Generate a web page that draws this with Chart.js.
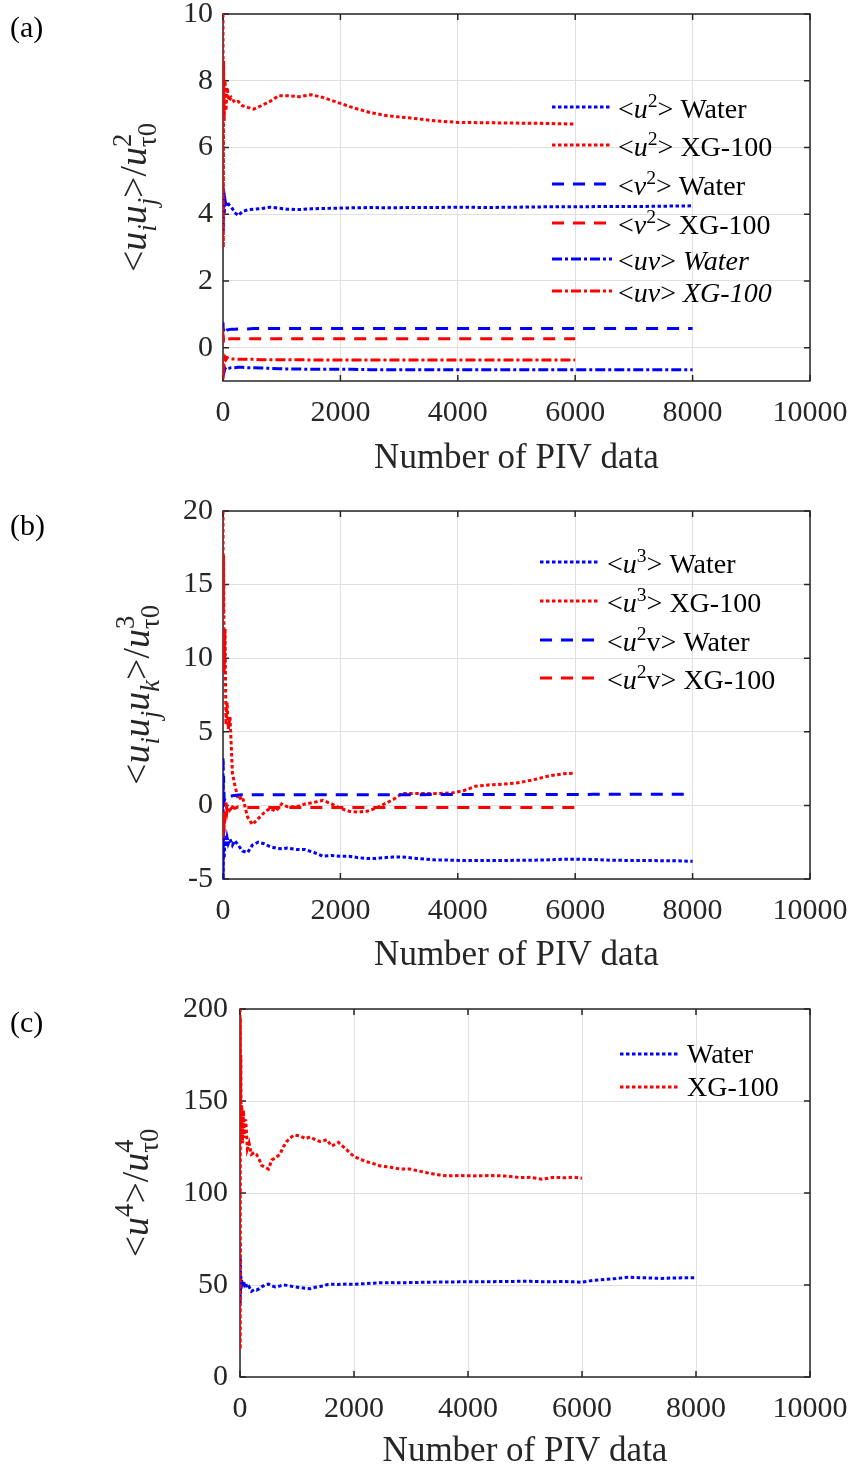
<!DOCTYPE html>
<html>
<head>
<meta charset="utf-8">
<script src="https://cdn.jsdelivr.net/npm/chart.js@4"></script>
<style>
  html, body { margin: 0; padding: 0; background: #fff; }
  #wrap { position: relative; width: 856px; height: 1469px; }
  canvas { position: absolute; left: 0; }
</style>
</head>
<body>
<div id="wrap">
  <canvas id="panelA" width="856" height="492" style="top:0px"></canvas>
  <canvas id="panelB" width="856" height="494" style="top:492px"></canvas>
  <canvas id="panelC" width="856" height="483" style="top:986px"></canvas>
</div>
<script>
const FONT = '"Liberation Serif", "Times New Roman", Times, serif';
const INK = '#262626';
const BLUE = '#0000ff';
const RED = '#ff0000';
const DOTTED = [3.5, 2.5];
const DASHED = [12, 9];
const DASHDOT = [10, 3, 3, 3];
const LINE_W = 3;

// shared x ticks (number of PIV samples)
const xTicks = [0, 2000, 4000, 6000, 8000, 10000];

// ---- (a) second-order moments ----
const yTicksA = [0, 2, 4, 6, 8, 10];
const nA = [0, 5, 10, 20, 35, 50, 70, 100, 140, 200, 260, 330, 420, 520, 650, 800, 950, 1100,
  1300, 1500, 1700, 1900, 2200, 2500, 2800, 3200, 3600, 4000, 4500, 5000, 5500, 6000,
  6500, 7000, 7500, 8000];
const u2WaterA = [4.8, 3.5, 4.6, 4.0, 4.42, 4.25, 4.38, 4.28, 4.22, 4.05, 3.96, 4.08, 4.13, 4.15,
  4.17, 4.21, 4.18, 4.15, 4.14, 4.16, 4.17, 4.18, 4.19, 4.2, 4.19, 4.2, 4.2, 4.21, 4.2, 4.21,
  4.22, 4.22, 4.23, 4.23, 4.24, 4.25];
const u2XgA = [10, 3.0, 8.6, 6.8, 8.0, 7.1, 7.8, 7.4, 7.5, 7.35, 7.38, 7.25, 7.2, 7.15, 7.25,
  7.38, 7.55, 7.55, 7.52, 7.58, 7.5, 7.38, 7.2, 7.05, 6.95, 6.88, 6.8, 6.75, 6.74, 6.73, 6.72, 6.7];
const v2WaterA = [0.75, 0.48, 0.62, 0.5, 0.53, 0.5, 0.53, 0.54, 0.55, 0.55, 0.56, 0.56, 0.56,
  0.57, 0.57, 0.57, 0.57, 0.57, 0.57, 0.57, 0.57, 0.57, 0.57, 0.57, 0.57, 0.57, 0.57, 0.57,
  0.57, 0.57, 0.57, 0.57, 0.57, 0.57, 0.57, 0.57];
const v2XgA = [0.35, 0.15, 0.3, 0.2, 0.25, 0.22, 0.25, 0.26, 0.27, 0.27, 0.27, 0.27, 0.27, 0.27,
  0.27, 0.27, 0.27, 0.27, 0.27, 0.27, 0.27, 0.27, 0.27, 0.27, 0.27, 0.27, 0.27, 0.27, 0.27,
  0.27, 0.27, 0.27];
const uvWaterA = [-0.5, -0.85, -0.6, -0.72, -0.62, -0.66, -0.63, -0.62, -0.6, -0.6, -0.59, -0.59,
  -0.6, -0.6, -0.61, -0.62, -0.63, -0.64, -0.64, -0.65, -0.65, -0.65, -0.65, -0.66, -0.66,
  -0.66, -0.66, -0.66, -0.66, -0.66, -0.66, -0.66, -0.66, -0.66, -0.66, -0.66];
const uvXgA = [-0.95, -0.45, -0.75, -0.4, -0.3, -0.36, -0.3, -0.33, -0.34, -0.34, -0.35, -0.35,
  -0.35, -0.35, -0.36, -0.36, -0.36, -0.36, -0.36, -0.37, -0.37, -0.37, -0.37, -0.37, -0.37,
  -0.37, -0.37, -0.37, -0.37, -0.37, -0.37, -0.37];

// ---- (b) third-order moments ----
const yTicksB = [-5, 0, 5, 10, 15, 20];
const nB = [0, 5, 10, 20, 35, 50, 70, 90, 120, 160, 200, 260, 330, 420, 500, 600, 700, 800, 900,
  1000, 1100, 1250, 1400, 1550, 1700, 1850, 2000, 2150, 2300, 2450, 2600, 2750, 2900, 3050,
  3300, 3600, 3900, 4100, 4300, 4550, 4800, 5050, 5300, 5550, 5800, 6000,
  6300, 6600, 6900, 7200, 7500, 7800, 8000];
const u3WaterB = [3.0, -5.0, -1.0, -3.6, -2.0, -2.8, -2.2, -2.6, -2.3, -2.7, -2.4, -2.7, -3.1,
  -3.2, -2.7, -2.5, -2.6, -2.8, -2.9, -2.95, -2.9, -3.0, -3.0, -3.2, -3.45, -3.4, -3.45, -3.45,
  -3.55, -3.6, -3.6, -3.55, -3.5, -3.5, -3.6, -3.7, -3.72, -3.75, -3.75, -3.75, -3.74, -3.73,
  -3.72, -3.7, -3.66, -3.65, -3.68, -3.72, -3.74, -3.74, -3.76, -3.77, -3.8];
const u3XgB = [20, 13, 17, 9, 12, 5.5, 7, 5.2, 6, 2.2, 1.4, 0.4, 0.6, -0.8, -1.3, -0.9, -0.5,
  -0.2, -0.4, 0.1, -0.1, -0.1, 0.1, 0.2, 0.35, 0.1, -0.2, -0.4, -0.45, -0.4, -0.2, 0.1, 0.4,
  0.8, 0.8, 0.8, 0.85, 1.0, 1.3, 1.4, 1.45, 1.55, 1.75, 2.0, 2.15, 2.2];
const u2vWaterB = [3.2, 1.0, 2.0, 0.3, 0.5, 0.4, 0.55, 0.5, 0.6, 0.65, 0.68, 0.7, 0.72, 0.72,
  0.73, 0.73, 0.73, 0.73, 0.73, 0.73, 0.73, 0.73, 0.73, 0.73, 0.73, 0.73, 0.73, 0.73, 0.73,
  0.73, 0.73, 0.73, 0.73, 0.73, 0.73, 0.74, 0.74, 0.74, 0.74, 0.74, 0.74, 0.74, 0.74, 0.74,
  0.74, 0.74, 0.75, 0.75, 0.75, 0.75, 0.75, 0.75, 0.75];
const u2vXgB = [-1.5, -2.2, -0.5, -1.8, -0.3, 0.2, -0.4, 0.1, -0.3, -0.1, -0.2, -0.1, -0.15,
  -0.15, -0.15, -0.15, -0.15, -0.15, -0.15, -0.15, -0.15, -0.15, -0.15, -0.15, -0.15, -0.15,
  -0.15, -0.15, -0.15, -0.15, -0.15, -0.15, -0.15, -0.15, -0.15, -0.15, -0.15, -0.15, -0.15,
  -0.15, -0.15, -0.15, -0.15, -0.15, -0.15, -0.15];

// ---- (c) fourth-order moment ----
const yTicksC = [0, 50, 100, 150, 200];
const nC = [0, 3, 6, 10, 15, 20, 30, 45, 60, 80, 100, 130, 160, 200, 250, 290, 340, 380, 440,
  500, 560, 620, 700, 760, 820, 880, 950, 1050, 1150, 1230, 1320, 1400, 1480, 1520, 1610,
  1725, 1800, 1870, 1990, 2100, 2220, 2340, 2460, 2640, 2810, 2980, 3130, 3280, 3450, 3630,
  3850, 4090, 4400, 4680, 4910, 5100, 5300, 5500, 5700, 5850, 6000,
  6200, 6400, 6600, 6800, 7000, 7200, 7400, 7600, 7800, 8000];
const u4XgC = [200, 15, 195, 150, 175, 135, 148, 127, 145, 130, 140, 124, 127, 121, 122, 121,
  118, 115, 114, 113, 118, 119, 121, 125, 128, 130, 131.5, 131, 129.5, 130.5, 129, 128, 128.5,
  129, 125.5, 127.5, 125.5, 123.6, 120, 118.5, 117, 116, 114.7, 114, 113, 113, 112, 111, 110,
  109.3, 109.5, 109.3, 109.5, 109.2, 108.4, 108.5, 107.5, 108.5, 108.3, 108.6, 108];
const u4WaterC = [73, 40, 65, 45, 55, 48, 53, 49, 52, 50, 51, 48, 49, 46.5, 47.5, 47.2, 48, 49,
  50, 50.5, 49.5, 49, 49.5, 50, 49.8, 49.5, 49, 48.6, 48.2, 48, 48.8, 49.2, 49.6, 50.2, 50.4,
  50.3, 50.4, 50.5, 50.4, 50.6, 50.8, 51, 51.2, 51.3, 51.2, 51.3, 51.4, 51.5, 51.6, 51.6, 51.7,
  51.7, 51.8, 51.9, 52, 52, 51.8, 51.8, 51.9, 51.7, 51.5, 52.5, 53, 53.5, 54.2, 54, 53.8, 53.6,
  53.8, 53.9, 54];

function pts(xs, ys) {
  return ys.map((y, i) => ({ x: xs[i], y: y }));
}

function segFont(size, italic) {
  return (italic ? 'italic ' : '') + size + 'px ' + FONT;
}

// draws text made of [text, style] pieces; style may hold 'i', 'sup', 'sub' or 'supsub'
function drawRich(ctx, segs, x, y, size, align) {
  const small = size * 0.7;
  const items = [];
  let w = 0;
  for (const [t, st = ''] of segs) {
    const it = st.includes('i');
    if (st.includes('supsub')) {
      const [a, b] = t.split('|');
      ctx.font = segFont(small, false);
      const wa = ctx.measureText(a).width;
      const wb = ctx.measureText(b).width;
      items.push({ t: a, font: ctx.font, x: w, dy: -0.4 * size });
      items.push({ t: b, font: ctx.font, x: w, dy: 0.25 * size });
      w += Math.max(wa, wb);
    } else {
      const sup = st.includes('sup');
      const sub = st.includes('sub');
      const f = segFont(sup || sub ? small : size, it);
      ctx.font = f;
      items.push({ t: t, font: f, x: w, dy: sup ? -0.4 * size : sub ? 0.25 * size : 0 });
      w += ctx.measureText(t).width;
    }
  }
  const x0 = align === 'center' ? x - w / 2 : x;
  ctx.textAlign = 'left';
  ctx.textBaseline = 'alphabetic';
  for (const p of items) {
    ctx.font = p.font;
    ctx.fillText(p.t, x0 + p.x, y + p.dy);
  }
}

// per-panel annotations: tag, y title, legend layout
const panelText = {
  panelA: {
    tag: '(a)', tagY: 37, yTitleX: 146, xTitleDy: 87,
    yTitle: [['<'], ['u', 'i'], ['i', 'sub i'], ['u', 'i'], ['j', 'sub i'], ['>/'], ['u', 'i'], ['2|τ0', 'supsub']],
    legend: {
      x1: 552, x2: 612, tx: 618, dy: 11,
      rows: [107, 145, 184, 223, 259, 291],
      labels: [
        [['<'], ['u', 'i'], ['2', 'sup'], ['> Water']],
        [['<'], ['u', 'i'], ['2', 'sup'], ['> XG-100']],
        [['<'], ['v', 'i'], ['2', 'sup'], ['> Water']],
        [['<'], ['v', 'i'], ['2', 'sup'], ['> XG-100']],
        [['<'], ['uv', 'i'], ['> '], ['Water', 'i']],
        [['<'], ['uv', 'i'], ['> '], ['XG-100', 'i']]
      ]
    }
  },
  panelB: {
    tag: '(b)', tagY: 43, yTitleX: 149, xTitleDy: 86,
    yTitle: [['<'], ['u', 'i'], ['i', 'sub i'], ['u', 'i'], ['j', 'sub i'], ['u', 'i'], ['k', 'sub i'], ['>/'], ['u', 'i'], ['3|τ0', 'supsub']],
    legend: {
      x1: 540, x2: 600, tx: 607, dy: 11,
      rows: [70, 109, 148, 186],
      labels: [
        [['<'], ['u', 'i'], ['3', 'sup'], ['> Water']],
        [['<'], ['u', 'i'], ['3', 'sup'], ['> XG-100']],
        [['<'], ['u', 'i'], ['2', 'sup'], ['v> Water']],
        [['<'], ['u', 'i'], ['2', 'sup'], ['v> XG-100']]
      ]
    }
  },
  panelC: {
    tag: '(c)', tagY: 46, yTitleX: 148, xTitleDy: 84,
    yTitle: [['<'], ['u', 'i'], ['4', 'sup'], ['>/'], ['u', 'i'], ['4|τ0', 'supsub']],
    legend: {
      x1: 620, x2: 680, tx: 687, dy: 9,
      rows: [68, 101],
      labels: [[['Water']], [['XG-100']]]
    }
  }
};

// MATLAB-like box with inward ticks, titles and legend
const frame = {
  id: 'frame',
  beforeDatasetsDraw(chart) {
    const { ctx, chartArea: a, scales: { x, y } } = chart;
    ctx.save();
    ctx.strokeStyle = INK;
    ctx.lineWidth = 1.5;
    ctx.strokeRect(a.left, a.top, a.right - a.left, a.bottom - a.top);
    const tl = 6;
    ctx.beginPath();
    for (const t of x.ticks) {
      const px = x.getPixelForValue(t.value);
      ctx.moveTo(px, a.bottom); ctx.lineTo(px, a.bottom - tl);
      ctx.moveTo(px, a.top); ctx.lineTo(px, a.top + tl);
    }
    for (const t of y.ticks) {
      const py = y.getPixelForValue(t.value);
      ctx.moveTo(a.left, py); ctx.lineTo(a.left + tl, py);
      ctx.moveTo(a.right, py); ctx.lineTo(a.right - tl, py);
    }
    ctx.stroke();
    ctx.restore();
  },
  afterDraw(chart) {
    const o = panelText[chart.canvas.id];
    const { ctx, chartArea: a } = chart;
    ctx.save();
    ctx.fillStyle = '#000';
    drawRich(ctx, [[o.tag]], 10, o.tagY, 30, 'left');
    ctx.fillStyle = INK;
    drawRich(ctx, [['Number of PIV data']], (a.left + a.right) / 2, a.bottom + o.xTitleDy, 35, 'center');

    ctx.save();
    ctx.translate(o.yTitleX, (a.top + a.bottom) / 2);
    ctx.rotate(-Math.PI / 2);
    drawRich(ctx, o.yTitle, 0, 0, 38, 'center');
    ctx.restore();

    const lg = o.legend;
    chart.data.datasets.forEach((ds, i) => {
      const ly = lg.rows[i];
      ctx.strokeStyle = ds.borderColor;
      ctx.lineWidth = ds.borderWidth;
      ctx.setLineDash(ds.borderDash);
      ctx.beginPath();
      ctx.moveTo(lg.x1, ly);
      ctx.lineTo(lg.x2, ly);
      ctx.stroke();
      ctx.setLineDash([]);
      ctx.fillStyle = '#000';
      drawRich(ctx, lg.labels[i], lg.tx, ly + lg.dy, 28, 'left');
    });
    ctx.restore();
  }
};

function series(label, xs, ys, color, dash) {
  return { label: label, data: pts(xs, ys), borderColor: color, borderDash: dash,
    borderWidth: LINE_W, pointRadius: 0, tension: 0, fill: false };
}

function makePanel(id, area, yMin, yMax, yTicks, datasets) {
  const canvas = document.getElementById(id);
  const h = canvas.height;
  datasets.forEach((ds, i) => { ds.order = datasets.length - i; });
  return new Chart(canvas, {
    type: 'line',
    data: { datasets: datasets },
    options: {
      responsive: false,
      animation: false,
      devicePixelRatio: 1,
      layout: { padding: { top: area.top, right: 856 - area.right, bottom: 0, left: 0 } },
      scales: {
        x: {
          type: 'linear', min: 0, max: 10000,
          afterBuildTicks: s => { s.ticks = xTicks.map(v => ({ value: v })); },
          afterFit: s => { s.height = h - area.bottom; s.paddingLeft = 0; s.paddingRight = 0; },
          ticks: { padding: 14, color: INK, font: { family: FONT, size: 30 }, maxRotation: 0,
            autoSkip: false, callback: v => String(v) },
          grid: { color: '#e0e0e0', lineWidth: 1, drawTicks: false },
          border: { display: false }
        },
        y: {
          type: 'linear', min: yMin, max: yMax,
          afterBuildTicks: s => { s.ticks = yTicks.map(v => ({ value: v })); },
          afterFit: s => { s.width = area.left; s.paddingTop = 0; s.paddingBottom = 0; },
          ticks: { padding: area.left > 230 ? 12 : 10, color: INK, font: { family: FONT, size: 30 },
            autoSkip: false, callback: v => String(v) },
          grid: { color: '#e0e0e0', lineWidth: 1, drawTicks: false },
          border: { display: false }
        }
      },
      plugins: { legend: { display: false }, tooltip: { enabled: false } }
    },
    plugins: [frame]
  });
}

makePanel('panelA', { left: 223, right: 810, top: 14, bottom: 381 }, -1, 10, yTicksA, [
  series('<u²> Water', nA, u2WaterA, BLUE, DOTTED),
  series('<u²> XG-100', nA, u2XgA, RED, DOTTED),
  series('<v²> Water', nA, v2WaterA, BLUE, DASHED),
  series('<v²> XG-100', nA, v2XgA, RED, DASHED),
  series('<uv> Water', nA, uvWaterA, BLUE, DASHDOT),
  series('<uv> XG-100', nA, uvXgA, RED, DASHDOT)
]);

makePanel('panelB', { left: 223, right: 810, top: 19, bottom: 387 }, -5, 20, yTicksB, [
  series('<u³> Water', nB, u3WaterB, BLUE, DOTTED),
  series('<u³> XG-100', nB, u3XgB, RED, DOTTED),
  series('<u²v> Water', nB, u2vWaterB, BLUE, DASHED),
  series('<u²v> XG-100', nB, u2vXgB, RED, DASHED)
]);

makePanel('panelC', { left: 240, right: 810, top: 23, bottom: 391 }, 0, 200, yTicksC, [
  series('Water', nC, u4WaterC, BLUE, DOTTED),
  series('XG-100', nC, u4XgC, RED, DOTTED)
]);
</script>
</body>
</html>
